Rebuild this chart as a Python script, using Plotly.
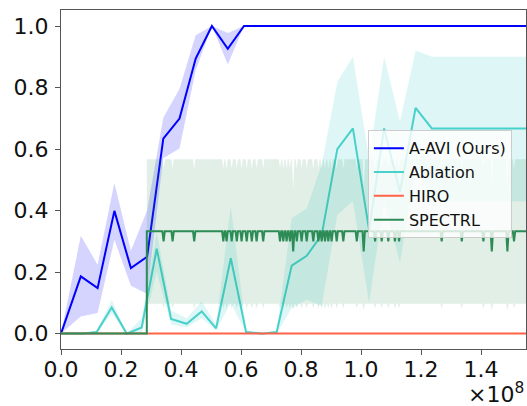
import plotly.graph_objects as go

# ---------------- data (x in units of 1e8 steps) ----------------
aavi_x = [0.0, 0.066, 0.122, 0.178, 0.233, 0.287, 0.341, 0.395, 0.449, 0.503, 0.556, 0.610,
          0.664, 0.718, 0.772, 0.826, 0.880, 0.934, 0.988, 1.042, 1.096, 1.150, 1.204,
          1.258, 1.312, 1.366, 1.420, 1.474, 1.528, 1.582]
aavi_y = [0.0, 0.186, 0.148, 0.399, 0.213, 0.250, 0.634, 0.699, 0.894, 1.0, 0.926, 1.0,
          1.0, 1.0, 1.0, 1.0, 1.0, 1.0, 1.0, 1.0, 1.0, 1.0, 1.0,
          1.0, 1.0, 1.0, 1.0, 1.0, 1.0, 1.0]
aavi_hi = [0.0, 0.318, 0.224, 0.490, 0.269, 0.400, 0.702, 0.796, 0.970, 1.0, 0.977, 1.0,
           1.0, 1.0, 1.0, 1.0, 1.0, 1.0, 1.0, 1.0, 1.0, 1.0, 1.0,
           1.0, 1.0, 1.0, 1.0, 1.0, 1.0, 1.0]
aavi_lo = [0.0, 0.056, 0.067, 0.305, 0.156, 0.130, 0.570, 0.602, 0.856, 1.0, 0.875, 1.0,
           1.0, 1.0, 1.0, 1.0, 1.0, 1.0, 1.0, 1.0, 1.0, 1.0, 1.0,
           1.0, 1.0, 1.0, 1.0, 1.0, 1.0, 1.0]

abl_x = [0.0, 0.069, 0.119, 0.169, 0.219, 0.269, 0.319, 0.367, 0.419, 0.469, 0.517,
         0.566, 0.617, 0.669, 0.719, 0.769, 0.819, 0.869, 0.921, 0.973, 1.027, 1.077,
         1.130, 1.182, 1.236, 1.290, 1.344, 1.398, 1.452, 1.506, 1.560]
abl_y = [0.0, 0.0, 0.005, 0.085, 0.0, 0.020, 0.276, 0.048, 0.032, 0.072, 0.017,
         0.245, 0.005, 0.0, 0.005, 0.221, 0.253, 0.321, 0.600, 0.667, 0.337, 0.667,
         0.460, 0.734, 0.667, 0.667, 0.667, 0.667, 0.667, 0.667, 0.667]
abl_hi = [0.0, 0.0, 0.010, 0.110, 0.0, 0.050, 0.330, 0.075, 0.050, 0.105, 0.030,
          0.415, 0.010, 0.0, 0.010, 0.375, 0.407, 0.550, 0.818, 0.900, 0.570, 0.900,
          0.690, 0.920, 0.900, 0.900, 0.900, 0.900, 0.900, 0.900, 0.900]
abl_lo = [0.0, 0.0, 0.0, 0.065, 0.0, 0.0, 0.200, 0.030, 0.020, 0.050, 0.010,
          0.100, 0.0, 0.0, 0.0, 0.083, 0.110, 0.090, 0.386, 0.430, 0.100, 0.430,
          0.230, 0.550, 0.430, 0.430, 0.430, 0.430, 0.430, 0.430, 0.430]

hiro_x = [0.0, 1.56]
hiro_y = [0.0, 0.0]

# SPECTRL: step up at ~0.286, then mostly 1/3 with short dips
spectrl_start = 0.286
spectrl_level = 0.333
spectrl_band_hi = 0.567
spectrl_band_lo = 0.097
spike_x = [0.342, 0.372, 0.444, 0.541, 0.552, 0.569, 0.586, 0.602, 0.619, 0.636, 0.652,
           0.674, 0.730, 0.741, 0.752, 0.763, 0.774, 0.786, 0.802, 0.819, 0.841, 0.858,
           0.869, 0.880, 0.891, 0.902, 0.919, 0.941, 0.986, 1.009, 1.047, 1.069, 1.091,
           1.113, 1.127, 1.269, 1.336, 1.408, 1.436, 1.488, 1.510]
spike_y = [0.300, 0.300, 0.300, 0.300, 0.300, 0.300, 0.300, 0.300, 0.300, 0.300, 0.300,
           0.300, 0.300, 0.300, 0.300, 0.300, 0.267, 0.300, 0.300, 0.300, 0.300, 0.300,
           0.300, 0.300, 0.300, 0.300, 0.300, 0.300, 0.300, 0.267, 0.300, 0.300, 0.300,
           0.300, 0.300, 0.300, 0.300, 0.300, 0.267, 0.267, 0.300]
spike_hi = [0.537 if v > 0.28 else 0.470 for v in spike_y]
spike_lo = [0.082 if v > 0.28 else 0.075 for v in spike_y]

x_ticks = [0.0, 0.2, 0.4, 0.6, 0.8, 1.0, 1.2, 1.4]
x_ticklabels = ["0.0", "0.2", "0.4", "0.6", "0.8", "1.0", "1.2", "1.4"]
y_ticks = [0.0, 0.2, 0.4, 0.6, 0.8, 1.0]
y_ticklabels = ["0.0", "0.2", "0.4", "0.6", "0.8", "1.0"]

# ---------------- build SPECTRL polyline ----------------
hw = 0.004
sp_x = [0.0, spectrl_start, spectrl_start]
sp_y = [0.0, 0.0, spectrl_level]
sp_hi = [0.0, 0.0, spectrl_band_hi]
sp_lo = [0.0, 0.0, spectrl_band_lo]
for sx, sy, sh, sl in zip(spike_x, spike_y, spike_hi, spike_lo):
    sp_x += [sx - hw, sx, sx + hw]
    sp_y += [spectrl_level, sy, spectrl_level]
    sp_hi += [spectrl_band_hi, sh, spectrl_band_hi]
    sp_lo += [spectrl_band_lo, sl, spectrl_band_lo]
sp_x.append(1.56)
sp_y.append(spectrl_level)
sp_hi.append(spectrl_band_hi)
sp_lo.append(spectrl_band_lo)

FONT = "DejaVu Sans"
fig = go.Figure()


def add_method(name, x, y, hi, lo, color, fill):
    fig.add_trace(go.Scatter(x=x, y=y, mode="lines", name=name,
                             line=dict(color=color, width=2)))
    if hi is not None:
        fig.add_trace(go.Scatter(x=list(x) + list(x)[::-1], y=list(hi) + list(lo)[::-1],
                                 mode="lines", fill="toself", fillcolor=fill,
                                 line=dict(width=0, color=fill), showlegend=False,
                                 hoverinfo="skip"))


add_method("A-AVI (Ours)", aavi_x, aavi_y, aavi_hi, aavi_lo, "#0000ff", "rgba(0,0,255,0.17)")
add_method("Ablation", abl_x, abl_y, abl_hi, abl_lo, "#48d1cc", "rgba(72,209,204,0.18)")
add_method("HIRO", hiro_x, hiro_y, None, None, "#ff6347", None)
add_method("SPECTRL", sp_x, sp_y, sp_hi, sp_lo, "#2e8b57", "rgba(46,139,87,0.14)")

axis_common = dict(showline=True, linecolor="#555555", linewidth=1.3, mirror=True,
                   ticks="outside", ticklen=5, tickwidth=1.3, tickcolor="#555555",
                   showgrid=False, zeroline=False, automargin=False,
                   tickfont=dict(family=FONT, size=22, color="#111111"))

fig.update_xaxes(range=[0, 1.55], tickvals=x_ticks, ticktext=x_ticklabels,
                 ticklabelstandoff=-5, **axis_common)
fig.update_yaxes(range=[-0.05, 1.052], tickvals=y_ticks, ticktext=y_ticklabels,
                 ticklabelstandoff=2, **axis_common)

fig.add_annotation(text="×10<sup>8</sup>", xref="paper", yref="paper", x=1.0, y=-0.176,
                   xanchor="right", yanchor="bottom", showarrow=False,
                   font=dict(family=FONT, size=22, color="#111111"))

fig.update_layout(
    width=527, height=406,
    margin=dict(l=61, r=1, t=10, b=57, autoexpand=False),
    paper_bgcolor="white", plot_bgcolor="white",
    font=dict(family=FONT),
    legend=dict(x=0.66, y=0.645, xanchor="left", yanchor="top",
                bgcolor="rgba(255,255,255,0.8)", bordercolor="#cccccc", borderwidth=1,
                font=dict(family=FONT, size=16, color="#111111"),
                tracegroupgap=0, itemwidth=30),
    showlegend=True,
)

fig.write_html("out.html", config={"displayModeBar": False},
               post_script="document.body.style.margin='0';document.body.style.overflow='hidden';")
